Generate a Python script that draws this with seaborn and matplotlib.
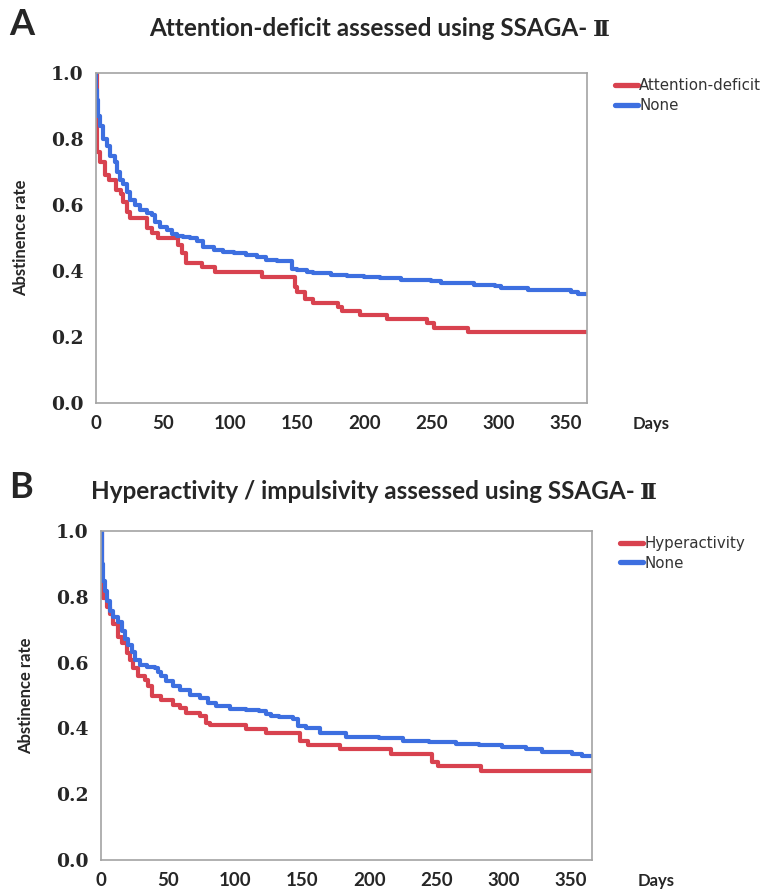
import pandas as pd
import matplotlib
matplotlib.use("Agg")
import matplotlib.pyplot as plt
from matplotlib.lines import Line2D
from matplotlib.ticker import MultipleLocator
import seaborn as sns

# ------------------------------------------------------------
# DADOS (dia da mudança, taxa de abstinência)
# ------------------------------------------------------------

# Painel A - Attention-deficit
a_ad_dias = [0, 0.5, 1, 3, 7, 10, 15, 19, 20, 23, 25, 38, 42, 46, 61, 64, 67, 79, 89, 124,
             148, 150, 156, 162, 180, 183, 197, 217, 247, 252, 277, 366]
a_ad_taxa = [1.0, 0.85, 0.76, 0.73, 0.69, 0.675, 0.645, 0.635, 0.61, 0.58, 0.56, 0.53, 0.515, 0.50,
             0.48, 0.455, 0.425, 0.413, 0.397, 0.383, 0.352, 0.337, 0.317, 0.304, 0.292, 0.279,
             0.267, 0.254, 0.242, 0.228, 0.215, 0.215]

# Painel A - None
a_none_dias = [0, 0.3, 1, 1.7, 3, 5.5, 8, 10.4, 14, 15.4, 18, 20.4, 23, 25.4, 29, 33, 38, 41.5, 44,
               48, 53, 56.5, 60, 65, 70, 75, 80, 87.6, 95, 102.5, 112, 120, 127, 135, 146, 149.5,
               157, 162, 175, 187, 200, 212, 227, 249.5, 257, 267, 282, 297, 302, 322, 347, 354,
               359, 366]
a_none_taxa = [1.0, 0.95, 0.92, 0.87, 0.84, 0.80, 0.78, 0.75, 0.73, 0.70, 0.676, 0.665, 0.64, 0.615,
               0.60, 0.585, 0.575, 0.57, 0.55, 0.534, 0.525, 0.514, 0.507, 0.503, 0.50, 0.49, 0.474,
               0.464, 0.458, 0.454, 0.448, 0.443, 0.435, 0.43, 0.408, 0.403, 0.398, 0.395, 0.388,
               0.385, 0.383, 0.378, 0.373, 0.371, 0.365, 0.363, 0.358, 0.355, 0.35, 0.344, 0.342,
               0.337, 0.33, 0.33]

# Painel B - Hyperactivity
b_hyp_dias = [0, 0.5, 1.7, 4.2, 6.7, 9.2, 12.9, 15.4, 19.1, 21.6, 24.1, 27.8, 32.7, 35.2, 37.7, 45,
              53.8, 58.7, 63.7, 73.6, 78.5, 81, 108, 123, 148, 154, 178, 216, 247, 251, 283, 366]
b_hyp_taxa = [1.0, 0.82, 0.795, 0.768, 0.748, 0.718, 0.678, 0.658, 0.628, 0.608, 0.583, 0.558, 0.548,
              0.528, 0.498, 0.487, 0.472, 0.462, 0.447, 0.437, 0.417, 0.41, 0.397, 0.385, 0.362,
              0.349, 0.337, 0.324, 0.299, 0.287, 0.272, 0.272]

# Painel B - None
b_none_dias = [0, 0.5, 1.7, 2.9, 4.2, 6.7, 9.2, 12.9, 15.4, 17.9, 20.3, 22.8, 25.3, 29, 34, 40, 42.6,
               45, 48.8, 53.8, 58.7, 66, 73.6, 79.8, 86, 96, 108, 118, 123, 127, 133, 143, 146.6,
               153, 163, 182.6, 207, 225, 244.6, 264.5, 282, 299, 316.5, 329, 351, 358.6, 366]
b_none_taxa = [1.0, 0.898, 0.848, 0.818, 0.788, 0.757, 0.737, 0.723, 0.697, 0.673, 0.652, 0.633,
               0.608, 0.593, 0.586, 0.583, 0.572, 0.558, 0.543, 0.528, 0.517, 0.502, 0.492, 0.477,
               0.467, 0.459, 0.457, 0.452, 0.445, 0.437, 0.434, 0.43, 0.407, 0.40, 0.387, 0.374,
               0.37, 0.362, 0.359, 0.352, 0.349, 0.344, 0.339, 0.33, 0.324, 0.317, 0.317]

x_ticks = [0, 50, 100, 150, 200, 250, 300, 350]
y_ticks = [0.0, 0.2, 0.4, 0.6, 0.8, 1.0]

VERMELHO = "#d8424f"
AZUL = "#3d6fe0"
CINZA = "#a3a3a3"


def montar_df(dias1, taxa1, nome1, dias2, taxa2, nome2):
    d1 = pd.DataFrame({"dias": dias1, "taxa": taxa1, "grupo": nome1})
    d2 = pd.DataFrame({"dias": dias2, "taxa": taxa2, "grupo": nome2})
    return pd.concat([d1, d2], ignore_index=True)


def escrever_titulo(fig, x_centro, y, texto, numeral):
    # texto em Lato + numeral romano em fonte serifada, centralizados juntos
    r = fig.canvas.get_renderer()
    larg_fig = fig.bbox.width
    t1 = fig.text(0, y, texto + " ", fontfamily="Lato", fontweight="bold", fontsize=17.5,
                  ha="left", va="baseline")
    t2 = fig.text(0, y, numeral, family=["DejaVu Serif", "Noto Sans CJK JP"], fontweight="bold",
                  fontsize=16.5, ha="left", va="baseline")
    w1 = t1.get_window_extent(r).width
    w2 = t2.get_window_extent(r).width
    x0 = x_centro * larg_fig - (w1 + w2) / 2
    t1.set_x(x0 / larg_fig)
    t2.set_x((x0 + w1) / larg_fig)


def desenhar_painel(ax, df, nome_grupo, letra, titulo, y_letra, x_titulo):
    sns.lineplot(data=df, x="dias", y="taxa", hue="grupo",
                 palette={nome_grupo: VERMELHO, "None": AZUL},
                 hue_order=[nome_grupo, "None"], estimator=None, sort=True,
                 drawstyle="steps-post", linewidth=3.0, legend=False, ax=ax)

    ax.set_xlim(0, 366)
    ax.set_ylim(0, 1.0)
    ax.set_xticks(x_ticks)
    ax.set_yticks(y_ticks)
    ax.set_yticklabels([f"{v:.1f}" for v in y_ticks])
    ax.xaxis.set_minor_locator(MultipleLocator(25))
    ax.yaxis.set_minor_locator(MultipleLocator(0.1))
    ax.tick_params(which="major", length=5, width=1, color=CINZA)
    ax.tick_params(axis="x", which="major", pad=3.5)
    ax.tick_params(axis="y", which="major", pad=4)
    ax.tick_params(which="minor", length=3, width=1, color=CINZA)
    for lab in ax.get_yticklabels():
        lab.set_fontfamily("DejaVu Serif")
        lab.set_fontweight("bold")
        lab.set_fontsize(13.5)
    for lab in ax.get_xticklabels():
        lab.set_fontfamily("Lato")
        lab.set_fontweight("bold")
        lab.set_fontsize(13.5)
    for s in ax.spines.values():
        s.set_color(CINZA)
        s.set_linewidth(1.2)
    ax.grid(False)

    ax.set_xlabel("")
    ax.set_ylabel("Abstinence rate", fontfamily="Lato", fontweight="bold", fontsize=12, labelpad=16)
    ax.text(1.13, -0.062, "Days", transform=ax.transAxes, fontfamily="Lato",
            fontweight="bold", fontsize=12, ha="center", va="center")

    handles = [Line2D([], [], color=VERMELHO, lw=3.8), Line2D([], [], color=AZUL, lw=3.8)]
    leg = ax.legend(handles, [nome_grupo, "None"], loc="upper left", bbox_to_anchor=(1.03, 1.025),
                    frameon=False, handlelength=1.5, handletextpad=0.1, labelspacing=0.3,
                    prop={"family": "DejaVu Sans", "size": 10.8})
    for t in leg.get_texts():
        t.set_color("#333333")

    fig = ax.figure
    fig.text(0.012, y_letra, letra, fontfamily="Lato", fontweight="bold", fontsize=26,
             ha="left", va="center")
    escrever_titulo(fig, x_titulo, y_letra - 0.013, titulo, "\u2161")


def main():
    sns.set_theme(style="white")

    fig = plt.figure(figsize=(7.71, 8.92), dpi=100)
    ax_a = fig.add_axes([0.1245, 0.548, 0.637, 0.370])
    ax_b = fig.add_axes([0.131, 0.0355, 0.637, 0.3695])

    df_a = montar_df(a_ad_dias, a_ad_taxa, "Attention-deficit", a_none_dias, a_none_taxa, "None")
    df_b = montar_df(b_hyp_dias, b_hyp_taxa, "Hyperactivity", b_none_dias, b_none_taxa, "None")

    desenhar_painel(ax_a, df_a, "Attention-deficit", "A",
                    "Attention-deficit assessed using SSAGA-", 0.973, 0.492)
    desenhar_painel(ax_b, df_b, "Hyperactivity", "B",
                    "Hyperactivity / impulsivity assessed using SSAGA-", 0.454, 0.485)

    fig.savefig("out.png", dpi=100, facecolor="white")
    plt.close(fig)


if __name__ == "__main__":
    main()
